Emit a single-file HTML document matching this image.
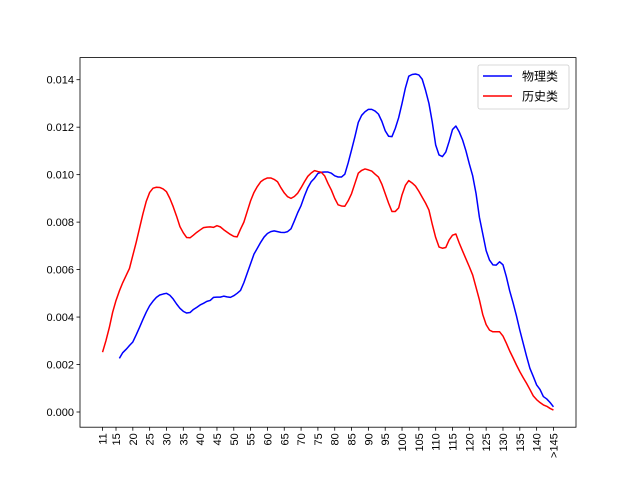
<!DOCTYPE html>
<html><head><meta charset="utf-8"><style>
body{margin:0;background:#fff}
svg{display:block}
text{font-family:"Liberation Sans","Noto Sans CJK SC",sans-serif;fill:#000}
</style></head><body>
<svg id="chart" width="640" height="480"></svg>
<script>
const categories=[];for(let c=11;c<=145;c++)categories.push(c);
const physics=[null,null,null,null,null,.00226,.00250,.00264,.00280,.00295,.00325,.00357,.00390,.00421,.00448,.00467,.00483,.00493,.00497,.00500,.00492,.00476,.00455,.00437,.00424,.00417,.00419,.00432,.00441,.00451,.00458,.00466,.00470,.00483,.00484,.00484,.00488,.00485,.00483,.00490,.00500,.00512,.00545,.00585,.00625,.00665,.00690,.00715,.00737,.00752,.00760,.00763,.00760,.00757,.00756,.00760,.00772,.00805,.00840,.00870,.00910,.00945,.00970,.00985,.01005,.01010,.01011,.01011,.01006,.00995,.00990,.00990,.01002,.01050,.01104,.01160,.01220,.01250,.01265,.01275,.01275,.01268,.01255,.01225,.01185,.01162,.01160,.01195,.01240,.01300,.01365,.01415,.01422,.01424,.01420,.01402,.01355,.01300,.01220,.01125,.01083,.01076,.01095,.01140,.01190,.01205,.01180,.01146,.01100,.01045,.00995,.00920,.00820,.00750,.00680,.00640,.00620,.00619,.00633,.00620,.00570,.00510,.00460,.00405,.00345,.00290,.00235,.00184,.00150,.00114,.00095,.00065,.00055,.00040,.00022];
const history=[.00252,.00300,.00355,.00420,.00470,.00510,.00545,.00575,.00605,.00660,.00715,.00775,.00835,.00888,.00925,.00943,.00947,.00946,.00940,.00928,.00900,.00865,.00825,.00781,.00755,.00735,.00734,.00745,.00757,.00767,.00777,.00779,.00780,.00778,.00785,.00780,.00768,.00758,.00748,.00740,.00738,.00770,.00800,.00845,.00890,.00925,.00950,.00970,.00980,.00986,.00986,.00980,.00970,.00945,.00923,.00907,.00900,.00908,.00922,.00945,.00970,.00993,.01007,.01017,.01013,.01010,.00995,.00963,.00935,.00900,.00873,.00868,.00867,.00890,.00920,.00963,.01006,.01018,.01024,.01020,.01015,.01002,.00990,.00960,.00920,.00880,.00845,.00845,.00860,.00915,.00955,.00975,.00965,.00952,.00930,.00905,.00880,.00851,.00790,.00735,.00695,.00690,.00693,.00725,.00745,.00750,.00712,.00678,.00645,.00612,.00577,.00525,.00472,.00410,.00368,.00345,.00338,.00338,.00338,.00320,.00290,.00257,.00228,.00198,.00170,.00145,.00121,.00095,.00068,.00052,.00040,.00030,.00024,.00015,.00008];
const xTickCats=[11,15,20,25,30,35,40,45,50,55,60,65,70,75,80,85,90,95,100,105,110,115,120,125,130,135,140,145];
const xTickLabels=["11","15","20","25","30","35","40","45","50","55","60","65","70","75","80","85","90","95","100","105","110","115","120","125","130","135","140",">145"];
const yTicks=[0,0.002,0.004,0.006,0.008,0.010,0.012,0.014];
const yTickLabels=["0.000","0.002","0.004","0.006","0.008","0.010","0.012","0.014"];

const NS="http://www.w3.org/2000/svg";
const svg=document.getElementById('chart');
const L=80,R=576,T=57.6,B=427.2;
const n=categories.length-1;
const xs=i=>L+(R-L)*(i+n*0.05)/(n*1.1);
const xc=c=>xs(categories.indexOf(c));
const y=v=>412-v/0.002*47.47;
function mk(t,a){const e=document.createElementNS(NS,t);for(const k in a)e.setAttribute(k,a[k]);svg.appendChild(e);return e;}

function series(vals,color,name){
  let d='';let pen=false;
  vals.forEach((v,i)=>{if(v===null){pen=false;return;}d+=(pen?'L':'M')+xs(i).toFixed(2)+' '+y(v).toFixed(2);pen=true;});
  const p=mk('path',{d:d,fill:'none',stroke:color,'stroke-width':1.5,'stroke-linejoin':'round'});
  
  
}
series(physics,'#0000ff','physics-line');
series(history,'#ff0000','history-line');

const frame=mk('rect',{x:L,y:T,width:R-L,height:B-T,fill:'none',stroke:'#000','stroke-width':0.8});



xTickCats.forEach((c,i)=>{
  const x=xc(c);
  const tk=mk('line',{x1:x,y1:B,x2:x,y2:B+3.5,stroke:'#000','stroke-width':0.8});
  
  
  const t=mk('text',{x:0,y:0,'font-size':11,'text-anchor':'end',transform:`translate(${x+4},${B+6}) rotate(-90)`});
  t.textContent=xTickLabels[i];
  
  
});
yTicks.forEach((v,i)=>{
  const yy=y(v);
  const tk=mk('line',{x1:L-3.5,y1:yy,x2:L,y2:yy,stroke:'#000','stroke-width':0.8});
  
  
  const t=mk('text',{x:L-6,y:yy+4,'font-size':11,'text-anchor':'end'});
  t.textContent=yTickLabels[i];
  
  
});

const lg=mk('rect',{x:478,y:65,width:91,height:44,rx:2,fill:'#fff','fill-opacity':0.8,stroke:'#ccc','stroke-width':0.8});


[['物理类','#0000ff',76],['历史类','#ff0000',96]].forEach(([lab,col,yy])=>{
  const l=mk('line',{x1:483,y1:yy,x2:512,y2:yy,stroke:col,'stroke-width':1.5});
  
  
  const t=mk('text',{x:522,y:yy+4.5,'font-size':12});
  t.textContent=lab;
  
  
});
</script>
</body></html>
